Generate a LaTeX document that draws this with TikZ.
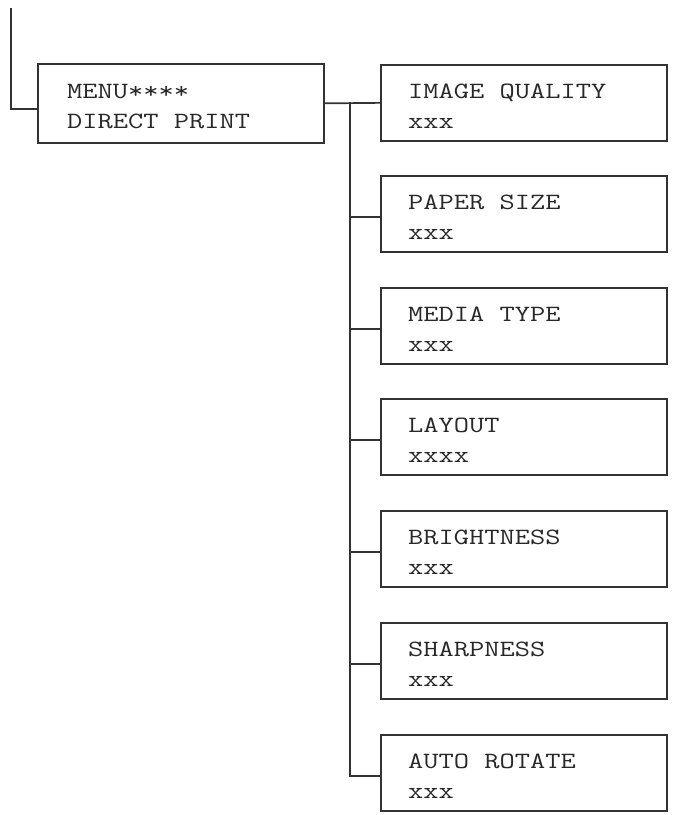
\documentclass[tikz,border=0pt]{standalone}
\usepackage{fontspec}
\setmonofont[FakeStretch=1.27]{Latin Modern Mono}
\definecolor{lc}{RGB}{50,50,50}
\definecolor{tc}{RGB}{40,40,40}
\begin{document}
\begin{tikzpicture}[x=1pt,y=-1pt,
  box/.style={draw=lc, line width=1.7pt, minimum width=286pt, minimum height=76pt, inner sep=0pt, anchor=north west},
  lbl/.style={anchor=base west, inner sep=0pt, font=\ttfamily\fontsize{23.3}{30}\selectfont, text=tc},
  conn/.style={draw=lc, line width=1.7pt}]
\useasboundingbox (0,0) rectangle (673,815);
% main menu box
\node[box, minimum height=79pt] (menu) at (37,63) {};
\node[lbl] (m1) at (67,98) {MENU****};
\node[lbl] (m2) at (67,128) {DIRECT PRINT};
% sub boxes
\foreach \n/\y/\a/\b in {iq/64/IMAGE QUALITY/xxx, ps/175/PAPER SIZE/xxx, mt/287/MEDIA TYPE/xxx, lo/398/LAYOUT/xxxx, br/510/BRIGHTNESS/xxx, sh/622/SHARPNESS/xxx, ar/734/AUTO ROTATE/xxx}{
  \node[box] (\n) at (380,\y) {};
  \node[lbl] (\n-t1) at (408,\y+34) {\a};
  \node[lbl] (\n-t2) at (408,\y+64) {\b};
}
% connectors
\coordinate (top) at (11,8);
\coordinate (tr) at (350,102);
\draw[conn] (top) |- ([yshift=-5.5pt]menu.west);
\draw[conn] (menu.east) -- (iq.west);
\draw[conn] (tr) |- ([yshift=-3pt]ar.west);
\foreach \n in {ps,mt,lo,br,sh}{
  \draw[conn] ([yshift=-3pt]\n.west) -- ++(-30,0);
}
\end{tikzpicture}
\end{document}
